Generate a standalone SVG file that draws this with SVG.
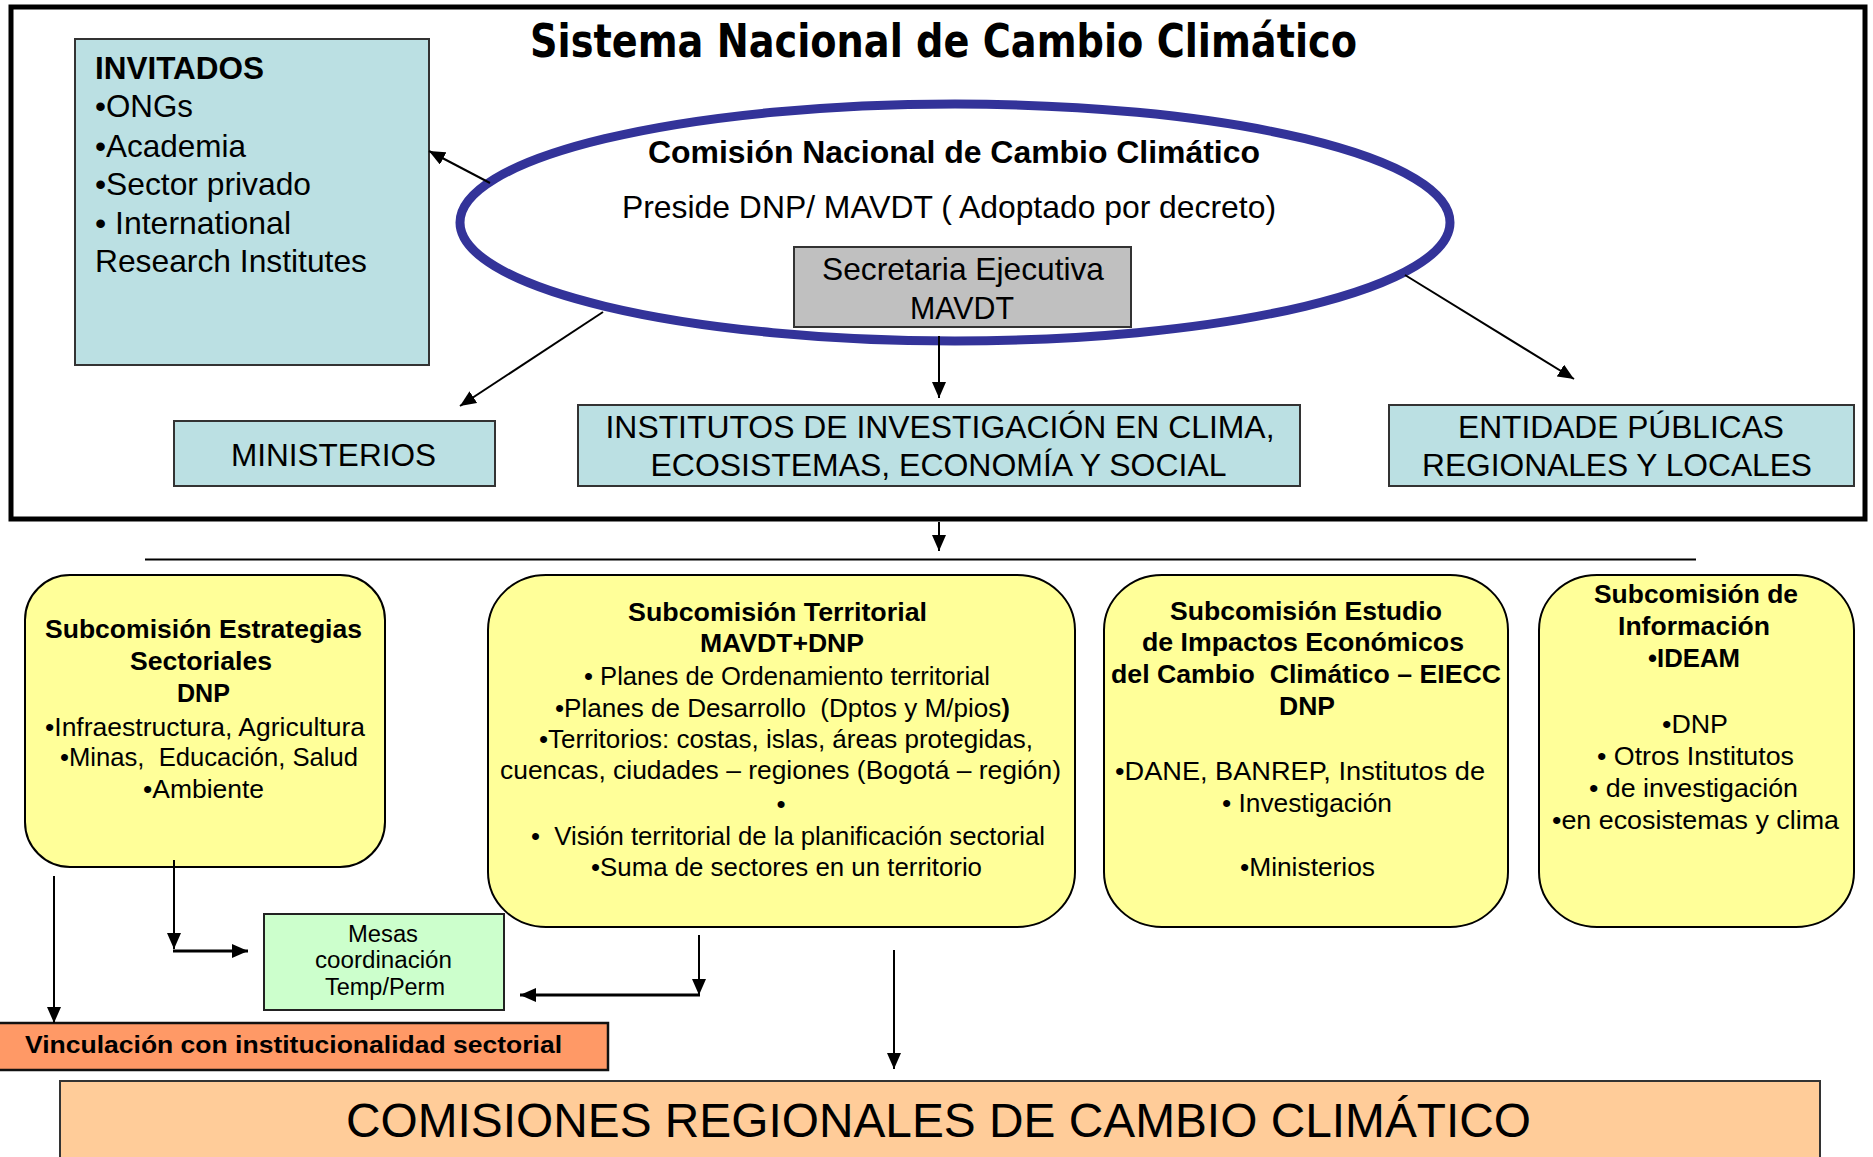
<svg xmlns="http://www.w3.org/2000/svg" width="1873" height="1157" viewBox="0 0 1873 1157">
<style>
text{font-family:"Liberation Sans",Arial,sans-serif;fill:#000;white-space:pre}
.t{font-size:31.5px}
.b{font-weight:bold}
.s{font-size:26px}
.m{font-size:23px}
.title{font-family:"DejaVu Sans",Verdana,sans-serif;font-weight:bold;font-size:46px}
.teal{fill:#BBE0E3;stroke:#333;stroke-width:2}
.yel{fill:#FFFF99;stroke:#000;stroke-width:2}
.con{stroke:#000;stroke-width:2;fill:none}
.thick{stroke-width:3}
</style>
<defs>
<marker id="ah" viewBox="0 0 16 14" refX="16" refY="7" markerWidth="16" markerHeight="14" orient="auto" markerUnits="userSpaceOnUse">
<path d="M0,0 L16,7 L0,14 z" fill="#000"/>
</marker>
</defs>
<rect width="1873" height="1157" fill="#fff"/>

<g id="sistema">
<rect x="11" y="7" width="1854" height="512" fill="none" stroke="#000" stroke-width="5"/>
<text class="title" x="530" y="57" textLength="827" lengthAdjust="spacingAndGlyphs">Sistema Nacional de Cambio Climático</text>
</g>

<g id="invitados">
<rect class="teal" x="75" y="39" width="354" height="326"/>
<text class="t b" x="95" y="79" textLength="169" lengthAdjust="spacingAndGlyphs">INVITADOS</text>
<text class="t" x="95" y="117" textLength="98" lengthAdjust="spacingAndGlyphs">•ONGs</text>
<text class="t" x="95" y="157" textLength="151" lengthAdjust="spacingAndGlyphs">•Academia</text>
<text class="t" x="95" y="195" textLength="216" lengthAdjust="spacingAndGlyphs">•Sector privado</text>
<text class="t" x="95" y="234" textLength="196" lengthAdjust="spacingAndGlyphs">• International</text>
<text class="t" x="95" y="272" textLength="272" lengthAdjust="spacingAndGlyphs">Research Institutes</text>
</g>

<g id="comision">
<ellipse cx="955" cy="222.5" rx="495" ry="118.5" fill="none" stroke="#333399" stroke-width="9"/>
<text class="t b" x="648" y="163" textLength="612" lengthAdjust="spacingAndGlyphs">Comisión Nacional de Cambio Climático</text>
<text class="t" x="622" y="218" textLength="654" lengthAdjust="spacingAndGlyphs">Preside DNP/ MAVDT ( Adoptado por decreto)</text>
</g>

<g id="secretaria">
<rect x="794" y="247" width="337" height="80" fill="#C0C0C0" stroke="#333" stroke-width="2"/>
<text class="t" x="822" y="280" textLength="282" lengthAdjust="spacingAndGlyphs">Secretaria Ejecutiva</text>
<text class="t" x="910" y="319" textLength="104" lengthAdjust="spacingAndGlyphs">MAVDT</text>
</g>

<g id="ministerios">
<rect class="teal" x="174" y="421" width="321" height="65"/>
<text class="t" x="231" y="465.5" textLength="205" lengthAdjust="spacingAndGlyphs">MINISTERIOS</text>
</g>

<g id="institutos">
<rect class="teal" x="578" y="405" width="722" height="81"/>
<text class="t" x="605.5" y="438" textLength="669" lengthAdjust="spacingAndGlyphs">INSTITUTOS DE INVESTIGACIÓN EN CLIMA,</text>
<text class="t" x="650.5" y="476" textLength="576" lengthAdjust="spacingAndGlyphs">ECOSISTEMAS, ECONOMÍA Y SOCIAL</text>
</g>

<g id="entidades">
<rect class="teal" x="1389" y="405" width="465" height="81"/>
<text class="t" x="1458" y="438" textLength="326" lengthAdjust="spacingAndGlyphs">ENTIDADE PÚBLICAS</text>
<text class="t" x="1422" y="476" textLength="390" lengthAdjust="spacingAndGlyphs">REGIONALES Y LOCALES</text>
</g>

<g id="sub-estrategias">
<rect class="yel" x="25" y="575" width="360" height="292" rx="45" ry="45"/>
<text class="s b" x="45" y="638" textLength="317" lengthAdjust="spacingAndGlyphs">Subcomisión Estrategias</text>
<text class="s b" x="130" y="670" textLength="142" lengthAdjust="spacingAndGlyphs">Sectoriales</text>
<text class="s b" x="177" y="702" textLength="53" lengthAdjust="spacingAndGlyphs">DNP</text>
<text class="s" x="45" y="736" textLength="320" lengthAdjust="spacingAndGlyphs">•Infraestructura, Agricultura</text>
<text class="s" x="60" y="766" textLength="298" lengthAdjust="spacingAndGlyphs">•Minas,  Educación, Salud</text>
<text class="s" x="143" y="798" textLength="121" lengthAdjust="spacingAndGlyphs">•Ambiente</text>
</g>

<g id="sub-territorial">
<rect class="yel" x="488" y="575" width="587" height="352" rx="58" ry="55"/>
<text class="s b" x="628" y="621" textLength="299" lengthAdjust="spacingAndGlyphs">Subcomisión Territorial</text>
<text class="s b" x="700" y="652" textLength="164" lengthAdjust="spacingAndGlyphs">MAVDT+DNP</text>
<text class="s" x="584" y="685" textLength="406" lengthAdjust="spacingAndGlyphs">• Planes de Ordenamiento territorial</text>
<text class="s" x="555" y="717" textLength="455" lengthAdjust="spacingAndGlyphs">•Planes de Desarrollo  (Dptos y M/pios<tspan class="b">)</tspan></text>
<text class="s" x="539" y="748" textLength="494" lengthAdjust="spacingAndGlyphs">•Territorios: costas, islas, áreas protegidas,</text>
<text class="s" x="500" y="779" textLength="561" lengthAdjust="spacingAndGlyphs">cuencas, ciudades – regiones (Bogotá – región)</text>
<text class="s" x="781" y="813" text-anchor="middle">•</text>
<text class="s" x="531" y="845" textLength="514" lengthAdjust="spacingAndGlyphs">•  Visión territorial de la planificación sectorial</text>
<text class="s" x="591" y="876" textLength="391" lengthAdjust="spacingAndGlyphs">•Suma de sectores en un territorio</text>
</g>

<g id="sub-estudio">
<rect class="yel" x="1104" y="575" width="404" height="352" rx="58" ry="55"/>
<text class="s b" x="1170" y="620" textLength="272" lengthAdjust="spacingAndGlyphs">Subcomisión Estudio</text>
<text class="s b" x="1142" y="651" textLength="322" lengthAdjust="spacingAndGlyphs">de Impactos Económicos</text>
<text class="s b" x="1111" y="683" textLength="390" lengthAdjust="spacingAndGlyphs">del Cambio  Climático – EIECC</text>
<text class="s b" x="1279" y="715" textLength="56" lengthAdjust="spacingAndGlyphs">DNP</text>
<text class="s" x="1115" y="780" textLength="370" lengthAdjust="spacingAndGlyphs">•DANE, BANREP, Institutos de</text>
<text class="s" x="1222" y="812" textLength="170" lengthAdjust="spacingAndGlyphs">• Investigación</text>
<text class="s" x="1240" y="876" textLength="135" lengthAdjust="spacingAndGlyphs">•Ministerios</text>
</g>

<g id="sub-informacion">
<rect class="yel" x="1539" y="575" width="315" height="352" rx="58" ry="55"/>
<text class="s b" x="1594" y="603" textLength="204" lengthAdjust="spacingAndGlyphs">Subcomisión de</text>
<text class="s b" x="1618" y="635" textLength="152" lengthAdjust="spacingAndGlyphs">Información</text>
<text class="s b" x="1648" y="667" textLength="92" lengthAdjust="spacingAndGlyphs">•IDEAM</text>
<text class="s" x="1662" y="733" textLength="66" lengthAdjust="spacingAndGlyphs">•DNP</text>
<text class="s" x="1597" y="765" textLength="197" lengthAdjust="spacingAndGlyphs">• Otros Institutos</text>
<text class="s" x="1589" y="797" textLength="209" lengthAdjust="spacingAndGlyphs">• de investigación</text>
<text class="s" x="1552" y="829" textLength="287" lengthAdjust="spacingAndGlyphs">•en ecosistemas y clima</text>
</g>

<g id="mesas">
<rect x="264" y="914" width="240" height="96" fill="#CCFFCC" stroke="#222" stroke-width="2"/>
<text class="m" x="348" y="942" textLength="70" lengthAdjust="spacingAndGlyphs">Mesas</text>
<text class="m" x="315" y="968" textLength="137" lengthAdjust="spacingAndGlyphs">coordinación</text>
<text class="m" x="325" y="995" textLength="120" lengthAdjust="spacingAndGlyphs">Temp/Perm</text>
</g>

<g id="vinculacion">
<rect x="-3" y="1023" width="611" height="47" fill="#FF9966" stroke="#111" stroke-width="2.5"/>
<text class="b" x="25" y="1053" font-size="24" textLength="537" lengthAdjust="spacingAndGlyphs">Vinculación con institucionalidad sectorial</text>
</g>

<g id="comisiones-regionales">
<rect x="60" y="1081" width="1760" height="90" fill="#FFCC99" stroke="#333" stroke-width="2"/>
<text x="346" y="1137" font-size="48" textLength="1185" lengthAdjust="spacingAndGlyphs">COMISIONES REGIONALES DE CAMBIO CLIMÁTICO</text>
</g>

<g id="connectors">
<line class="con" x1="490" y1="183" x2="429" y2="151" marker-end="url(#ah)"/>
<line class="con" x1="603" y1="312" x2="460" y2="406" marker-end="url(#ah)"/>
<line class="con" x1="939" y1="336" x2="939" y2="398" marker-end="url(#ah)"/>
<line class="con" x1="1405" y1="275" x2="1574" y2="379" marker-end="url(#ah)"/>
<line class="con" x1="939" y1="522" x2="939" y2="551" marker-end="url(#ah)"/>
<line class="con" x1="145" y1="559.5" x2="1696" y2="559.5"/>
<line class="con" x1="54" y1="876" x2="54" y2="1023" marker-end="url(#ah)"/>
<line class="con" x1="174" y1="860" x2="174" y2="949" marker-end="url(#ah)"/>
<line class="con thick" x1="173" y1="951" x2="248" y2="951" marker-end="url(#ah)"/>
<line class="con" x1="699" y1="935" x2="699" y2="995" marker-end="url(#ah)"/>
<line class="con thick" x1="700" y1="995" x2="520" y2="995" marker-end="url(#ah)"/>
<line class="con" x1="894" y1="950" x2="894" y2="1069" marker-end="url(#ah)"/>
</g>
</svg>
